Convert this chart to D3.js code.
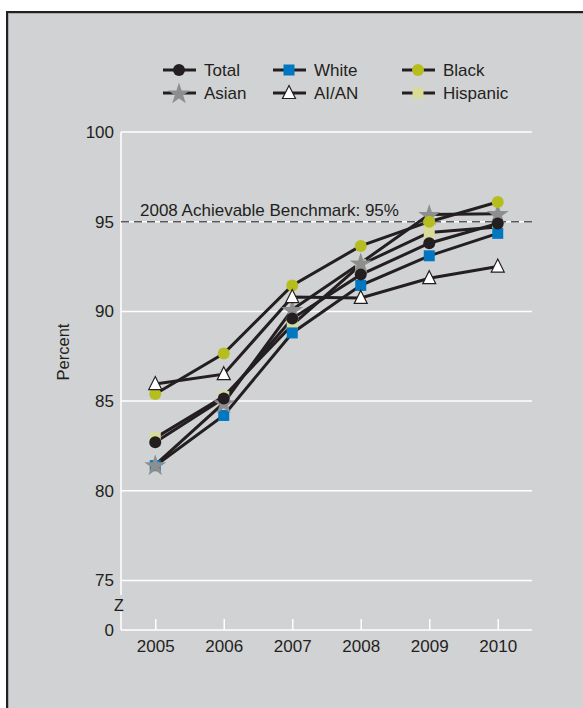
<!DOCTYPE html>
<html><head><meta charset="utf-8">
<script src="https://cdn.jsdelivr.net/npm/d3@7"></script>
<style>html,body{margin:0;padding:0;background:#fff;}svg{display:block;}</style>
</head><body>
<svg id="c" width="583" height="708"></svg>
<script>
const years = ["2005","2006","2007","2008","2009","2010"];
const yTicks = [0,75,80,85,90,95,100];
const benchmark = 95;
const benchmarkLabel = "2008 Achievable Benchmark: 95%";
const totalVals    = [82.7, 85.15, 89.6, 92.05, 93.8, 94.9];
const whiteVals    = [81.4, 84.2, 88.8, 91.45, 93.1, 94.35];
const blackVals    = [85.4, 87.65, 91.45, 93.65, 95.0, 96.1];
const asianVals    = [81.45, 84.9, 90.1, 92.7, 95.4, 95.45];
const aianVals     = [85.95, 86.5, 90.8, 90.75, 91.85, 92.5];
const hispanicVals = [82.95, 85.25, 89.25, 92.6, 94.4, 94.7];
const seriesNames  = ["Total","White","Black","Asian","AI/AN","Hispanic"];

const ink = "#231f20";
const styles = {
  "Total":   {shape:"circle",  fill:ink},
  "White":   {shape:"square",  fill:"#0077c0"},
  "Black":   {shape:"circle",  fill:"#b5be1e"},
  "Asian":   {shape:"star",    fill:"#8d8e90"},
  "AI/AN":   {shape:"triangle",fill:"#ffffff"},
  "Hispanic":{shape:"square",  fill:"#d8dc98"}
};
const valuesByName = {"Total":totalVals,"White":whiteVals,"Black":blackVals,"Asian":asianVals,"AI/AN":aianVals,"Hispanic":hispanicVals};
const drawOrder = ["Hispanic","White","Asian","Black","Total","AI/AN"];

const svg = d3.select("#c");
const font = "Liberation Sans, Arial, Helvetica, sans-serif";
const fs = 17;

// panel
svg.append("rect").attr("x",7).attr("y",12).attr("width",600).attr("height",720)
  .attr("fill","#d1d2d4").attr("stroke",ink).attr("stroke-width",2);
svg.append("rect").attr("x",8.5).attr("y",13.5).attr("width",600).attr("height",720)
  .attr("fill","none").attr("stroke","#a7a9ab").attr("stroke-width",1);

const L = 121, R = 532;
const x = d3.scalePoint().domain(years).range([L,R]).padding(0.5);
const y = d3.scaleLinear().domain([0,75,100]).range([630,580.5,132]);

// gridlines
svg.append("g").selectAll("line").data(yTicks.filter(d=>d>0)).join("line")
  .attr("x1",L).attr("x2",R).attr("y1",d=>y(d)).attr("y2",d=>y(d))
  .attr("stroke","#ffffff").attr("stroke-width",1.5);

// y axis line (with break)
svg.append("line").attr("x1",L).attr("x2",L).attr("y1",y(100)).attr("y2",595)
  .attr("stroke","#fff").attr("stroke-width",1.5);
svg.append("line").attr("x1",L).attr("x2",L).attr("y1",612).attr("y2",y(0))
  .attr("stroke","#fff").attr("stroke-width",1.5);
svg.append("text").attr("x",119).attr("y",611).attr("text-anchor","middle")
  .attr("font-family",font).attr("font-size",16).attr("fill",ink).text("Z");

// x axis baseline
svg.append("line").attr("x1",L).attr("x2",R).attr("y1",y(0)).attr("y2",y(0))
  .attr("stroke","#fff").attr("stroke-width",1.5);

// x axis via d3.axisBottom
const xAxis = svg.append("g").attr("transform",`translate(0,${y(0)})`)
  .call(d3.axisBottom(x).tickSizeInner(-11).tickSizeOuter(0).tickPadding(10));
xAxis.select(".domain").remove();
xAxis.selectAll(".tick line").attr("stroke","#fff").attr("stroke-width",1.5);
xAxis.selectAll(".tick text").attr("font-family",font).attr("font-size",fs).attr("fill",ink);

// y axis labels
const yAxis = svg.append("g").attr("transform",`translate(${L},0)`)
  .call(d3.axisLeft(y).tickValues(yTicks).tickSize(0).tickPadding(7).tickFormat(d3.format("d")));
yAxis.select(".domain").remove();
yAxis.selectAll(".tick text").attr("font-family",font).attr("font-size",fs).attr("fill",ink);

// y title
svg.append("text").attr("transform","translate(69,352) rotate(-90)").attr("text-anchor","middle")
  .attr("font-family",font).attr("font-size",16.5).attr("fill",ink).text("Percent");

// benchmark
svg.append("line").attr("x1",L).attr("x2",R).attr("y1",y(benchmark)).attr("y2",y(benchmark))
  .attr("stroke","#58595b").attr("stroke-width",1.4).attr("stroke-dasharray","8,5");
svg.append("text").attr("x",140).attr("y",y(benchmark)-6)
  .attr("font-family",font).attr("font-size",fs).attr("fill",ink).text(benchmarkLabel);

// marker helper
function marker(g, shape, fill, cx, cy){
  if(shape==="circle"){
    g.append("circle").attr("cx",cx).attr("cy",cy).attr("r",6).attr("fill",fill);
  } else if(shape==="square"){
    g.append("rect").attr("x",cx-5.5).attr("y",cy-5.5).attr("width",11).attr("height",11).attr("fill",fill);
  } else if(shape==="star"){
    g.append("path").attr("transform",`translate(${cx},${cy+1})`)
      .attr("d",d3.symbol(d3.symbolStar,150)()).attr("fill",fill);
  } else if(shape==="triangle"){
    g.append("path").attr("d",`M${cx},${cy-7.5}L${cx+6.5},${cy+5.5}L${cx-6.5},${cy+5.5}Z`)
      .attr("fill",fill).attr("stroke",ink).attr("stroke-width",1.2).attr("stroke-linejoin","miter");
  }
}

// lines
const line = d3.line().x((d,i)=>x(years[i])).y(d=>y(d));
const lg = svg.append("g");
drawOrder.forEach(n=>{
  lg.append("path").attr("d",line(valuesByName[n])).attr("fill","none")
    .attr("stroke",ink).attr("stroke-width",3);
});
const mg = svg.append("g");
drawOrder.forEach(n=>{
  valuesByName[n].forEach((v,i)=>marker(mg, styles[n].shape, styles[n].fill, x(years[i]), y(v)));
});

// legend
const legX = [163,273,402], legY = [70,93];
const leg = svg.append("g");
seriesNames.forEach((n,i)=>{
  const cx = legX[i%3], cy = legY[Math.floor(i/3)];
  leg.append("line").attr("x1",cx).attr("x2",cx+33).attr("y1",cy).attr("y2",cy)
    .attr("stroke",ink).attr("stroke-width",3);
  marker(leg, styles[n].shape, styles[n].fill, cx+16, cy);
  leg.append("text").attr("x",cx+41).attr("y",cy+6).attr("font-family",font)
    .attr("font-size",fs).attr("fill",ink).text(n);
});
</script>
</body></html>
